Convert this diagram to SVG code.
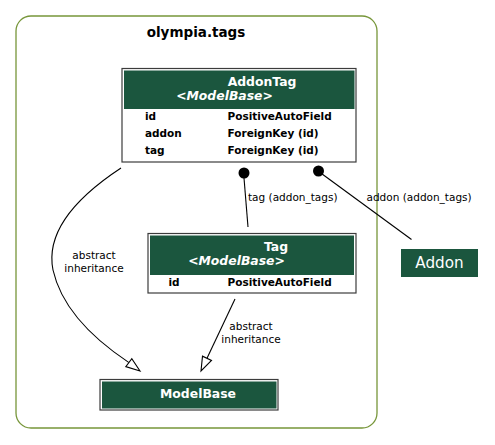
<svg xmlns="http://www.w3.org/2000/svg" width="495" height="445" viewBox="0 0 495 445">
<defs>
<style>
.cluster{fill:#ffffff;stroke:#77963a;stroke-width:1.3}
.outer{fill:#ffffff;stroke:#3c3c3c;stroke-width:1.2}
.head{fill:#1b563e;stroke:none}
.t{font-family:"DejaVu Sans",Verdana,sans-serif;fill:#ffffff;font-weight:bold;font-size:12.4px}
.ti{font-family:"DejaVu Sans",Verdana,sans-serif;fill:#ffffff;font-weight:bold;font-style:italic;font-size:12.4px}
.f{font-family:"DejaVu Sans",Verdana,sans-serif;fill:#000000;font-weight:bold;font-size:10.5px}
.lbl{font-family:"DejaVu Sans",Verdana,sans-serif;fill:#000000;font-size:10.5px}
.edge{fill:none;stroke:#000000;stroke-width:1.1}
.hollow{fill:#ffffff;stroke:#000000;stroke-width:1.1}
</style>
</defs>
<rect width="495" height="445" fill="#ffffff"/>
<g id="cluster_olympia_tags">
<rect class="cluster" x="16" y="16" width="361" height="412" rx="15" ry="15"/>
<text x="196" y="37" text-anchor="middle" style="font-family:'DejaVu Sans',Verdana,sans-serif;font-weight:bold;font-size:13.5px;fill:#000">olympia.tags</text>
</g>
<g id="connectors">
<path class="edge" d="M121,168 C80,195 45,230 53,270 C62,310 95,340 129,362.6"/>
<polygon class="hollow" points="140,371 125.8,366.6 131.8,358.6"/>
<text class="lbl" x="94" y="259" text-anchor="middle">abstract</text>
<text class="lbl" x="94" y="272" text-anchor="middle">inheritance</text>
<path class="edge" d="M235,299 L207,358.3"/>
<polygon class="hollow" points="201,371 202.5,356.2 211.5,360.4"/>
<text class="lbl" x="251" y="330" text-anchor="middle">abstract</text>
<text class="lbl" x="251" y="342.5" text-anchor="middle">inheritance</text>
<path class="edge" d="M244,178 L248,227"/>
<circle cx="244" cy="173" r="5.5" fill="#000"/>
<text class="lbl" x="248" y="200.5">tag (addon_tags)</text>
<path class="edge" d="M318,171 L411.5,239.5"/>
<circle cx="318.5" cy="171" r="5.5" fill="#000"/>
<text class="lbl" x="366.5" y="200.5">addon (addon_tags)</text>
</g>
<g id="node_AddonTag">
<rect class="outer" x="122" y="68.5" width="234" height="93.5"/>
<rect class="head" x="124" y="70.5" width="230.5" height="38.5"/>
<text class="t" x="262" y="86" text-anchor="middle">AddonTag</text>
<text class="ti" x="224.5" y="100" text-anchor="middle">&lt;ModelBase&gt;</text>
<text class="f" x="145" y="120">id</text>
<text class="f" x="227.5" y="120">PositiveAutoField</text>
<text class="f" x="145" y="136.5">addon</text>
<text class="f" x="227.5" y="136.5">ForeignKey (id)</text>
<text class="f" x="145" y="153.5">tag</text>
<text class="f" x="227.5" y="153.5">ForeignKey (id)</text>
</g>
<g id="node_Tag">
<rect class="outer" x="148" y="233.5" width="208" height="59.5"/>
<rect class="head" x="150" y="235.5" width="204" height="39.5"/>
<text class="t" x="276" y="251" text-anchor="middle">Tag</text>
<text class="ti" x="236.5" y="265" text-anchor="middle">&lt;ModelBase&gt;</text>
<text class="f" x="168.5" y="285.5">id</text>
<text class="f" x="227.5" y="285.5">PositiveAutoField</text>
</g>
<g id="node_ModelBase">
<rect class="outer" x="100" y="379.5" width="178" height="30.5"/>
<rect class="head" x="102" y="381.5" width="174.5" height="27"/>
<text class="t" x="198" y="397.5" text-anchor="middle">ModelBase</text>
</g>
<g id="node_Addon">
<rect class="head" x="401" y="249" width="77" height="28"/>
<text x="439.5" y="268" text-anchor="middle" style="font-family:'DejaVu Sans',Verdana,sans-serif;font-size:15.2px;fill:#fff">Addon</text>
</g>
</svg>
